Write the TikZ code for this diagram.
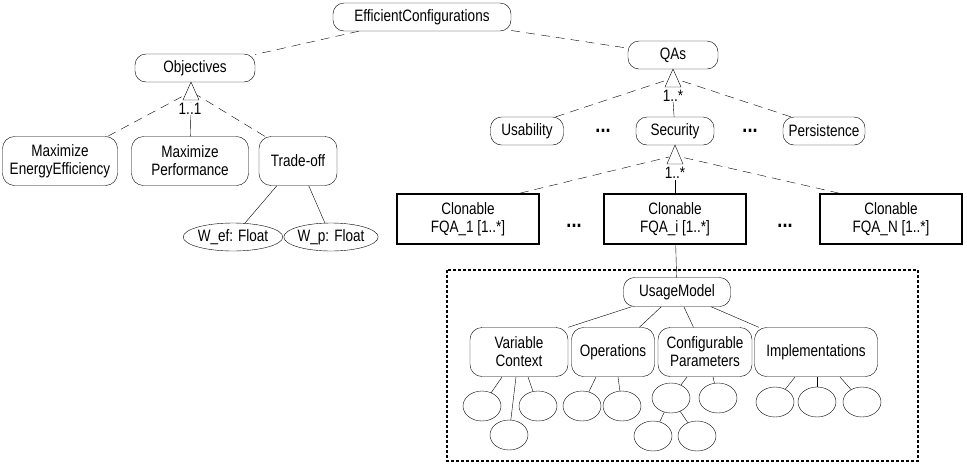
\documentclass[tikz,border=0pt]{standalone}
\usepackage{fontspec}
\setmainfont{Liberation Sans}[FakeStretch=0.82]
\usetikzlibrary{shapes.geometric}
\begin{document}
\begin{tikzpicture}[x=1pt,y=-1pt,
  every node/.style={font=\fontsize{16.5}{18}\selectfont,align=center,inner sep=0pt},
  rr/.style={draw,rounded corners=11pt,minimum height=28pt},
  rr2/.style={draw,rounded corners=12pt,minimum height=49pt},
  cl/.style={draw,line width=1.6pt,minimum width=142pt,minimum height=50pt},
  el/.style={draw,ellipse,minimum width=38pt,minimum height=30pt},
  dsh/.style={dash pattern=on 9pt off 6pt},
  dots/.style={font=\fontsize{22}{22}\selectfont\bfseries},
  tri/.style={draw,fill=white}]
\useasboundingbox (0,0) rectangle (967,464);
\node[rr,minimum width=178pt] (ec) at (422,17) {EfficientConfigurations};
\node[rr,minimum width=120pt] (obj) at (195,68) {Objectives};
\node[rr,minimum width=90pt] (qas) at (673,55) {QAs};
\node[rr2,minimum width=115pt] (mee) at (60,161) {Maximize\\EnergyEfficiency};
\node[rr2,minimum width=117pt] (mp) at (190,161) {Maximize\\Performance};
\node[rr2,minimum width=78pt] (to) at (298,161) {Trade-off};
\node[draw,ellipse,minimum width=96pt,minimum height=28pt] (wef) at (233,237) {W\_ef: Float};
\node[draw,ellipse,minimum width=80pt,minimum height=28pt] (wp) at (331,237) {W\_p: Float};
\node[rr,minimum width=73pt] (us) at (527,131) {Usability};
\node[rr,minimum width=78pt] (sec) at (675,131) {Security};
\node[rr,minimum width=82pt] (per) at (824,131) {Persistence};
\node[dots] (d1) at (603,131) {...};
\node[dots] (d2) at (750,131) {...};
\node[cl] (f1) at (468,219) {Clonable\\FQA\_1 [1..*]};
\node[cl] (fi) at (675,219) {Clonable\\FQA\_i [1..*]};
\node[cl] (fn) at (891,219) {Clonable\\FQA\_N [1..*]};
\node[dots] (d3) at (574,226) {...};
\node[dots] (d4) at (785,226) {...};
\draw[dash pattern=on 3pt off 2pt,line width=1.2pt] (447,270) rectangle (918,461);
\node[rr,minimum width=107pt,minimum height=29pt] (um) at (677,292) {UsageModel};
\node[rr2,minimum width=98pt] (vc) at (519,352) {Variable\\Context};
\node[rr2,minimum width=83pt] (op) at (613,352) {Operations};
\node[rr2,minimum width=94pt] (cp) at (705,352) {Configurable\\Parameters};
\node[rr2,minimum width=123pt] (im) at (816,352) {Implementations};
\node[el] (v1) at (482,406) {};
\node[el] (v2) at (538,406) {};
\node[el] (v3) at (509,435) {};
\node[el] (o1) at (582,406) {};
\node[el] (o2) at (622,406) {};
\node[el] (c1) at (671,398) {};
\node[el] (c2) at (718,398) {};
\node[el] (c3) at (653,436) {};
\node[el] (c4) at (697,436) {};
\node[el] (i1) at (775,402) {};
\node[el] (i2) at (817,402) {};
\node[el] (i3) at (862,402) {};
% dashed top edges
\draw[dsh] (ec) -- (obj);
\draw[dsh] (ec) -- (qas);
% objectives group
\coordinate (oa) at (191,82);
\draw[dsh] (mee.north east) ++(-10,0) coordinate (mee1) -- (185,95);
\draw[dsh] (to.north west) ++(6,0) coordinate (to1) -- (197,95);
\draw (mp) -- (191,102);
\draw[tri] (oa) -- (183,100) -- (199,100) -- cycle;
\node[fill=white] (l1) at (190,109) {1..1};
% QAs group
\coordinate (qa) at (673,69);
\draw[dsh] (us.north east) ++(-8,0) coordinate (us1) -- (667,80);
\draw[dsh] (per.north west) ++(8,0) coordinate (per1) -- (679,80);
\draw (sec) -- (673,100);
\draw[tri] (qa) -- (665,87) -- (681,87) -- cycle;
\node[fill=white] (l2) at (673,96) {1..*};
% Security group
\coordinate (sa) at (675,145);
\draw[dsh] (f1.north east) ++(-20,0) coordinate (f11) -- (669,157);
\draw[dsh] (fn.north west) ++(20,0) coordinate (fn1) -- (681,157);
\draw (fi) -- (675,180);
\draw[tri] (sa) -- (667,164) -- (683,164) -- cycle;
\node[fill=white] (l3) at (675,173) {1..*};
% solid edges
\draw (to) -- (wef);
\draw (to) -- (wp);
\draw (fi) -- (um);
\draw (um) -- (vc.north east);
\draw (um) -- (op);
\draw (um) -- (cp);
\draw (um) -- (im);
\draw (502,377) -- (v1);
\draw (516,377) -- (v3);
\draw (528,377) -- (v2);
\draw (596,377) -- (o1);
\draw (618,377) -- (o2);
\draw (687,377) -- (c1);
\draw (713,377) -- (c2);
\draw (c1) -- (c3);
\draw (c1) -- (c4);
\draw (795,377) -- (i1);
\draw (817,377) -- (i2);
\draw (840,377) -- (i3);
\end{tikzpicture}
\end{document}
